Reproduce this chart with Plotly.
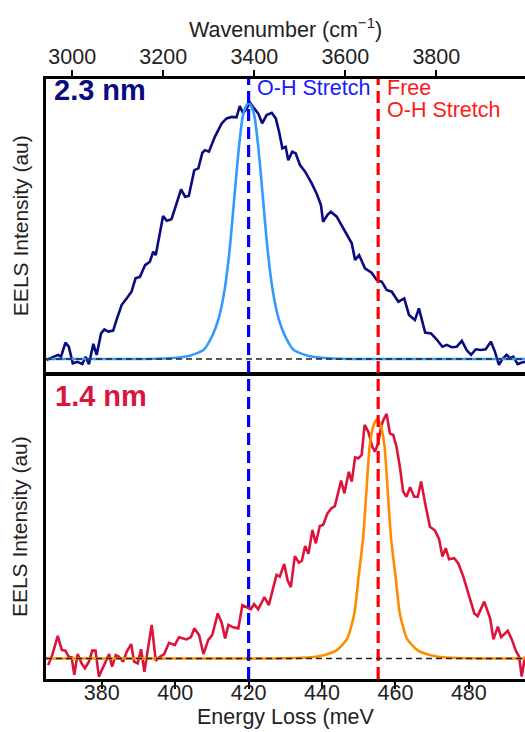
import plotly.graph_objects as go

# ---------------- data ----------------
MEV_TO_CM = 8.0655  # 1 meV = 8.0655 cm^-1

energy_23nm = [364.9, 368.1, 368.9, 370.1, 371.0, 372.1, 373.4, 374.7, 375.6, 376.5,
               377.7, 378.6, 379.8, 380.7, 381.8, 383.1, 384.0, 385.4, 386.8, 388.1,
               389.2, 390.4, 391.8, 393.1, 394.0, 394.7, 396.7, 397.7, 399.0, 400.4,
               401.6, 402.7, 403.7, 405.2, 406.3, 407.4, 408.1, 409.2, 410.8, 412.7,
               414.0, 415.4, 416.7, 417.6, 418.5, 419.2, 420.4, 421.5, 422.6, 423.7,
               424.9, 426.3, 427.4, 428.3, 429.2, 430.1, 430.8, 431.9, 432.8, 434.0,
               435.4, 437.2, 438.5, 439.7, 440.3, 441.5, 442.4, 444.0, 445.5, 446.7,
               448.1, 449.0, 450.1, 451.7, 453.5, 454.9, 456.3, 457.6, 459.0, 460.8,
               462.4, 463.7, 465.3, 466.4, 468.1, 469.7, 471.2, 472.8, 474.0, 475.3,
               476.7, 478.1, 479.4, 480.6, 481.9, 483.3, 484.6, 486.0, 487.1, 488.2,
               489.1, 490.3, 491.2, 492.1, 493.3, 494.4, 495.3]
intensity_23nm = [-0.004, 0.016, 0.009, 0.064, 0.048, -0.017, -0.011, -0.020, 0.009, -0.020,
                  0.059, 0.016, 0.100, 0.116, 0.107, 0.111, 0.152, 0.211, 0.237, 0.263,
                  0.315, 0.321, 0.367, 0.380, 0.419, 0.406, 0.559, 0.540, 0.546, 0.608,
                  0.663, 0.634, 0.637, 0.738, 0.745, 0.806, 0.816, 0.810, 0.868, 0.921,
                  0.940, 0.946, 0.944, 0.988, 0.960, 0.973, 1.001, 0.979, 0.960, 0.921,
                  0.953, 0.962, 0.940, 0.888, 0.823, 0.829, 0.777, 0.810, 0.804, 0.758,
                  0.732, 0.686, 0.647, 0.602, 0.536, 0.563, 0.575, 0.556, 0.517, 0.491,
                  0.452, 0.387, 0.406, 0.354, 0.337, 0.309, 0.302, 0.270, 0.263, 0.224,
                  0.237, 0.172, 0.152, 0.198, 0.103, 0.100, 0.077, 0.048, 0.055, 0.046,
                  0.048, 0.071, 0.035, 0.016, 0.038, 0.035, 0.038, 0.068, 0.029, -0.023,
                  -0.001, 0.016, 0.003, 0.009, -0.020, -0.014, -0.011]

fit_energy_23nm = [364.8, 390.0, 398.2, 403.7, 407.7, 409.9, 411.96, 413.46, 414.82, 416.05,
                   417.28, 418.37, 419.2, 420.0, 420.8, 421.63, 422.72, 423.95, 425.18,
                   426.54, 428.04, 430.1, 432.3, 436.3, 441.8, 450.0, 495.3]
fit_intensity_23nm = [0.0, 0.0, 0.003, 0.012, 0.035, 0.085, 0.165, 0.27, 0.426, 0.621,
                      0.816, 0.946, 0.985, 1.0, 0.985, 0.946, 0.816, 0.621, 0.426,
                      0.27, 0.165, 0.085, 0.035, 0.012, 0.003, 0.0, 0.0]

energy_14nm = [365.4, 366.5, 368.0, 369.1, 370.1, 371.0, 371.8, 372.5, 373.4, 374.5,
               375.4, 376.5, 377.4, 378.3, 379.2, 380.4, 382.0, 382.8, 383.8, 384.7,
               385.8, 386.8, 388.0, 388.8, 389.8, 390.7, 391.6, 393.6, 394.7, 395.8,
               397.0, 398.3, 399.9, 401.0, 403.1, 404.3, 405.2, 406.5, 407.7, 409.0,
               410.1, 411.6, 412.7, 413.6, 414.5, 415.8, 417.2, 418.3, 419.5, 420.6,
               421.5, 422.6, 424.3, 425.5, 427.6, 428.5, 429.7, 430.6, 431.5, 432.6,
               433.7, 434.5, 435.4, 436.3, 437.4, 438.3, 439.4, 440.3, 441.5, 442.6,
               443.5, 445.2, 446.1, 447.3, 448.1, 449.0, 449.9, 450.8, 451.6, 452.6,
               453.7, 454.4, 455.3, 456.1, 456.7, 457.6, 458.5, 459.4, 460.3, 461.2,
               462.1, 463.0, 464.0, 465.1, 466.1, 467.0, 468.1, 469.4, 470.8, 471.9,
               472.8, 473.7, 474.6, 476.0, 477.1, 478.5, 480.0, 481.5, 482.4, 483.5,
               484.2, 485.8, 486.7, 487.9, 488.8, 490.6, 491.7, 492.8, 493.7, 494.4,
               495.3]
intensity_14nm = [-0.027, 0.014, 0.092, 0.035, 0.032, 0.007, 0.005, -0.067, 0.018, -0.020,
                  -0.040, -0.013, 0.032, 0.032, -0.074, -0.033, 0.018, -0.033, 0.014, 0.007,
                  -0.013, 0.028, 0.059, -0.013, -0.020, 0.038, -0.054, 0.137, -0.009, 0.007,
                  0.018, 0.064, 0.055, 0.087, 0.078, 0.087, 0.123, 0.096, 0.018, 0.076,
                  0.096, 0.184, 0.144, 0.082, 0.137, 0.127, 0.123, 0.218, 0.209, 0.201,
                  0.222, 0.201, 0.250, 0.218, 0.341, 0.334, 0.386, 0.320, 0.291, 0.418,
                  0.391, 0.399, 0.459, 0.427, 0.524, 0.470, 0.541, 0.545, 0.593, 0.613,
                  0.622, 0.726, 0.674, 0.762, 0.722, 0.821, 0.817, 0.831, 0.953, 0.926,
                  0.864, 0.844, 0.878, 0.946, 0.973, 0.998, 0.919, 0.912, 0.864, 0.783,
                  0.681, 0.660, 0.699, 0.660, 0.660, 0.722, 0.633, 0.538, 0.522, 0.487,
                  0.416, 0.450, 0.405, 0.409, 0.389, 0.334, 0.259, 0.184, 0.173, 0.214,
                  0.232, 0.164, 0.078, 0.130, 0.087, 0.113, 0.078, 0.032, 0.007, -0.074,
                  0.007]

fit_energy_14nm = [364.8, 427.0, 437.0, 439.5, 443.8, 446.83, 448.81, 449.96, 451.19, 452.06,
                   453.0, 454.0, 455.0, 456.0, 457.0, 457.94, 458.81, 460.04, 461.19,
                   463.17, 466.2, 470.5, 473.0, 483.0, 495.3]
fit_intensity_14nm = [0.0, 0.0, 0.005, 0.01, 0.032, 0.08, 0.184, 0.334, 0.49, 0.674,
                      0.87, 0.95, 0.976, 0.95, 0.87, 0.674, 0.49, 0.334, 0.184,
                      0.08, 0.032, 0.01, 0.005, 0.0, 0.0]

assert len(energy_23nm) == len(intensity_23nm)
assert len(energy_14nm) == len(intensity_14nm)
assert len(fit_energy_23nm) == len(fit_intensity_23nm)
assert len(fit_energy_14nm) == len(fit_intensity_14nm)

ref_lines_meV = [420.0, 455.3]
ref_line_colors = ["#0000ff", "#ff0000"]
energy_ticks = [380, 400, 420, 440, 460, 480]
wavenumber_ticks = [3000, 3200, 3400, 3600, 3800]
x_range = [364.8, 495.3]

FONT = "Liberation Sans, Arial, Helvetica, sans-serif"
TXT = 21.5
NAVY = "#0b0b80"
LIGHTBLUE = "#3399ff"
CRIMSON = "#dc143c"
ORANGE = "#ff8c00"
LW = 2.6

fig = go.Figure()

# invisible trace so the top (wavenumber) axis is drawn
fig.add_trace(go.Scatter(x=[v * MEV_TO_CM for v in x_range], y=[0, 0], xaxis="x3", yaxis="y2",
                         mode="lines", line=dict(width=0), opacity=0, hoverinfo="skip",
                         showlegend=False))

fig.add_trace(go.Scatter(x=energy_23nm, y=intensity_23nm, xaxis="x2", yaxis="y2", mode="lines",
                         line=dict(color=NAVY, width=LW), showlegend=False, name="2.3 nm"))
fig.add_trace(go.Scatter(x=fit_energy_23nm, y=fit_intensity_23nm, xaxis="x2", yaxis="y2",
                         mode="lines", line=dict(color=LIGHTBLUE, width=LW, shape="spline",
                                                 smoothing=0.6),
                         showlegend=False, name="fit 2.3 nm"))
fig.add_trace(go.Scatter(x=energy_14nm, y=intensity_14nm, xaxis="x", yaxis="y", mode="lines",
                         line=dict(color=CRIMSON, width=LW), showlegend=False, name="1.4 nm"))
fig.add_trace(go.Scatter(x=fit_energy_14nm, y=fit_intensity_14nm, xaxis="x", yaxis="y",
                         mode="lines", line=dict(color=ORANGE, width=LW, shape="spline",
                                                 smoothing=0.6),
                         showlegend=False, name="fit 1.4 nm"))

shapes = []
for xv, col in zip(ref_lines_meV, ref_line_colors):
    shapes.append(dict(type="line", xref="x", yref="paper", x0=xv, x1=xv, y0=0, y1=1,
                       line=dict(color=col, width=3.2, dash="12px,6px"), layer="above"))
for xr, yr in (("x domain", "y"), ("x2 domain", "y2")):
    shapes.append(dict(type="line", xref=xr, yref=yr, x0=0, x1=1, y0=0, y1=0,
                       line=dict(color="#222222", width=1.4, dash="6px,4px"), layer="above"))

axis_common = dict(showgrid=False, zeroline=False, linecolor="black", linewidth=2.6,
                   showline=True)

annotations = [
    dict(text="<b>2.3 nm</b>", xref="x2 domain", yref="y2 domain", x=0, y=0.963,
         xanchor="left", yanchor="middle", xshift=6, showarrow=False,
         font=dict(family=FONT, size=29, color=NAVY)),
    dict(text="<b>1.4 nm</b>", xref="x domain", yref="y domain", x=0, y=0.931,
         xanchor="left", yanchor="middle", xshift=7, showarrow=False,
         font=dict(family=FONT, size=29, color=CRIMSON)),
    dict(text="O-H Stretch", xref="x2", yref="y2 domain", x=ref_lines_meV[0], y=0.971,
         xanchor="left", yanchor="middle", xshift=6, showarrow=False,
         font=dict(family=FONT, size=TXT, color="#1a1aff")),
    dict(text="Free", xref="x2", yref="y2 domain", x=ref_lines_meV[1], y=0.969,
         xanchor="left", yanchor="middle", xshift=7, showarrow=False,
         font=dict(family=FONT, size=TXT, color="#ff1a1a")),
    dict(text="O-H Stretch", xref="x2", yref="y2 domain", x=ref_lines_meV[1], y=0.894,
         xanchor="left", yanchor="middle", xshift=7, showarrow=False,
         font=dict(family=FONT, size=TXT, color="#ff1a1a")),
    dict(text="EELS Intensity (au)", xref="paper", yref="y2 domain", x=-0.054, y=0.5,
         xanchor="center", yanchor="middle", textangle=-90, showarrow=False,
         font=dict(family=FONT, size=21, color="#222222")),
    dict(text="EELS Intensity (au)", xref="paper", yref="y domain", x=-0.054, y=0.5,
         xanchor="center", yanchor="middle", textangle=-90, showarrow=False,
         font=dict(family=FONT, size=21, color="#222222")),
    dict(text="Wavenumber (cm<sup>\u22121</sup>)", xref="paper", yref="paper", x=0.501,
         y=1.085, xanchor="center", yanchor="middle", showarrow=False,
         font=dict(family=FONT, size=TXT, color="#222222")),
    dict(text="Energy Loss (meV", xref="paper", yref="paper", x=0.501, y=-0.0635,
         xanchor="center", yanchor="middle", showarrow=False,
         font=dict(family=FONT, size=TXT, color="#222222")),
]

fig.update_layout(
    width=525, height=732,
    margin=dict(l=46, r=0, t=79, b=53, pad=0),
    paper_bgcolor="white", plot_bgcolor="white",
    font=dict(family=FONT, size=TXT, color="#222222"),
    showlegend=False,
    xaxis=dict(**axis_common, domain=[0, 1], anchor="y", range=x_range, tickvals=energy_ticks,
               ticks="outside", ticklen=7, tickwidth=2, tickcolor="black", mirror=True,
               tickfont=dict(size=TXT), ticklabelstandoff=-15),
    yaxis=dict(**axis_common, domain=[0, 0.5067], range=[-0.0837, 1.157], showticklabels=False,
               ticks=""),
    xaxis2=dict(**axis_common, anchor="y2", matches="x", showticklabels=False, ticks=""),
    yaxis2=dict(**axis_common, domain=[0.51, 1], range=[-0.0547, 1.094], showticklabels=False,
                ticks=""),
    xaxis3=dict(**axis_common, overlaying="x2", anchor="y2", side="top",
                range=[v * MEV_TO_CM for v in x_range], tickvals=wavenumber_ticks,
                ticks="outside", ticklen=6, tickwidth=2, tickcolor="black",
                tickfont=dict(size=TXT), ticklabelstandoff=-2),
    shapes=shapes,
    annotations=annotations,
)

fig.write_html("out.html")
